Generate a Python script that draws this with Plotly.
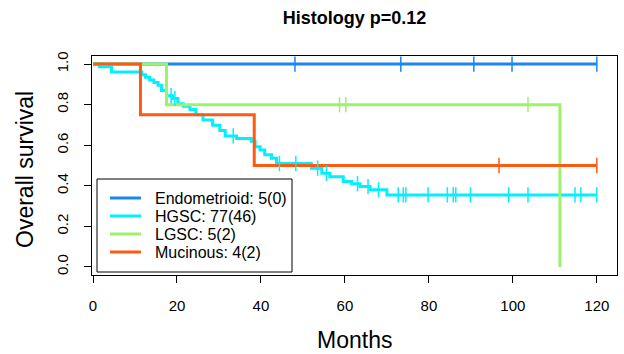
import numpy as np
import plotly.graph_objects as go

# ---- data ----
groups = ["Endometrioid: 5(0)", "HGSC: 77(46)", "LGSC: 5(2)", "Mucinous: 4(2)"]
colors = ["#1A86EE", "#00F0FF", "#9CF26A", "#FF5A12"]

endo_t = [0, 120]
endo_s = [1.0, 1.0]
endo_c = [48.1, 73.3, 90.7, 99.8, 120.0]

hgsc_t = [0, 1.5, 4.4, 11.6, 12.5, 13.5, 14.5, 15.5, 16.3, 17.5, 19.0, 20.2, 21.5,
          23.1, 24.5, 26.2, 28.5, 30.2, 31.5, 34.2, 37.7, 38.6, 39.8, 40.9, 42.5,
          43.7, 52.0, 54.5, 56.4, 59.6, 61.6, 63.6, 66.0, 70.0, 120.0]
hgsc_s = [1.0, 0.987, 0.961, 0.948, 0.935, 0.922, 0.909, 0.896, 0.870, 0.844, 0.831,
          0.805, 0.792, 0.776, 0.750, 0.724, 0.698, 0.672, 0.646, 0.633, 0.619, 0.593,
          0.577, 0.553, 0.536, 0.510, 0.487, 0.462, 0.445, 0.421, 0.410, 0.396, 0.380,
          0.355, 0.355]
hgsc_c = [18.6, 19.5, 33.4, 44.4, 48.3, 53.5, 55.6, 63.0, 65.5, 68.0, 72.7, 73.9, 74.5,
          79.8, 84.4, 85.8, 86.4, 89.9, 99.0, 103.6, 114.8, 116.2, 120.0]

lgsc_t = [0, 17.5, 111.2]
lgsc_s = [1.0, 0.8, 0.0]
lgsc_c = [58.7, 60.2, 103.6]

muc_t = [0, 11.3, 38.4, 120.0]
muc_s = [1.0, 0.75, 0.5, 0.5]
muc_c = [96.7, 120.0]

x_ticks = [0, 20, 40, 60, 80, 100, 120]
y_ticks = [0.0, 0.2, 0.4, 0.6, 0.8, 1.0]

series = [(endo_t, endo_s, endo_c), (hgsc_t, hgsc_s, hgsc_c),
          (lgsc_t, lgsc_s, lgsc_c), (muc_t, muc_s, muc_c)]

FONT = "Liberation Sans, Arial, sans-serif"

# plot-area pixel geometry (for paper-coordinate placement of legend/labels)
PL, PR, PT, PB = 92, 617, 56, 275
PW, PH = PR - PL, PB - PT


def px(xp):
    return (xp - PL) / PW


def py(yp):
    return (PB - yp) / PH


fig = go.Figure()
for name, col, (t, s, c) in zip(groups, colors, series):
    fig.add_trace(go.Scatter(x=t, y=s, mode="lines", name=name, showlegend=False,
                             line=dict(color=col, width=3, shape="hv")))
for name, col, (t, s, c) in zip(groups, colors, series):
    idx = np.searchsorted(np.array(t), np.array(c), side="right") - 1
    cy = np.array(s)[idx]
    fig.add_trace(go.Scatter(x=c, y=cy, mode="markers", showlegend=False, name=name,
                             marker=dict(symbol="line-ns", size=11, color=col,
                                         line=dict(color=col, width=1.5))))

# legend (R-style box legend)
shapes = [dict(type="rect", xref="paper", yref="paper", x0=px(97), x1=px(292),
               y0=py(272), y1=py(179), line=dict(color="black", width=1),
               fillcolor="white", layer="above")]
annotations = []
row_y = [198, 216, 234, 252]
for name, col, ry in zip(groups, colors, row_y):
    shapes.append(dict(type="line", xref="paper", yref="paper", x0=px(110), x1=px(141),
                       y0=py(ry), y1=py(ry), line=dict(color=col, width=3),
                       layer="above"))
    annotations.append(dict(text=name, xref="paper", yref="paper", x=px(153), y=py(ry),
                            xanchor="left", yanchor="middle", showarrow=False,
                            font=dict(size=16, family=FONT, color="black")))

annotations += [
    dict(text="Months", xref="paper", yref="paper", x=0.5, y=py(340),
         xanchor="center", yanchor="middle", showarrow=False,
         font=dict(size=23, family=FONT, color="black")),
    dict(text="Overall survival", xref="paper", yref="paper", x=px(25),
         y=py(170), xanchor="center", yanchor="middle", textangle=-90, showarrow=False,
         font=dict(size=23, family=FONT, color="black")),
]

fig.update_layout(
    width=624, height=354,
    margin=dict(l=PL, r=624 - PR, t=PT, b=354 - PB),
    paper_bgcolor="white", plot_bgcolor="white",
    font=dict(family=FONT, color="black", size=15),
    title=dict(text="<b>Histology p=0.12</b>", x=(PL + PR) / 2 / 624, xanchor="center",
               yref="container", y=1 - 18 / 354, yanchor="middle",
               font=dict(size=18, family=FONT, color="black")),
    showlegend=False,
    shapes=shapes,
    annotations=annotations,
    xaxis=dict(range=[-0.24, 124.8], tickvals=x_ticks, ticks="outside", ticklen=7,
               tickcolor="black", showline=True, linecolor="black", linewidth=1,
               mirror=True, showgrid=False, zeroline=False, ticklabelstandoff=10,
               tickfont=dict(size=15)),
    yaxis=dict(range=[-0.04, 1.04], tickvals=y_ticks, ticktext=[f"{v:.1f}" for v in y_ticks],
               ticks="outside", ticklen=7, tickcolor="black", showline=True,
               linecolor="black", linewidth=1, mirror=True, showgrid=False,
               zeroline=False, tickangle=-90, ticklabelstandoff=10,
               tickfont=dict(size=15)),
)

fig.write_html("out.html")
